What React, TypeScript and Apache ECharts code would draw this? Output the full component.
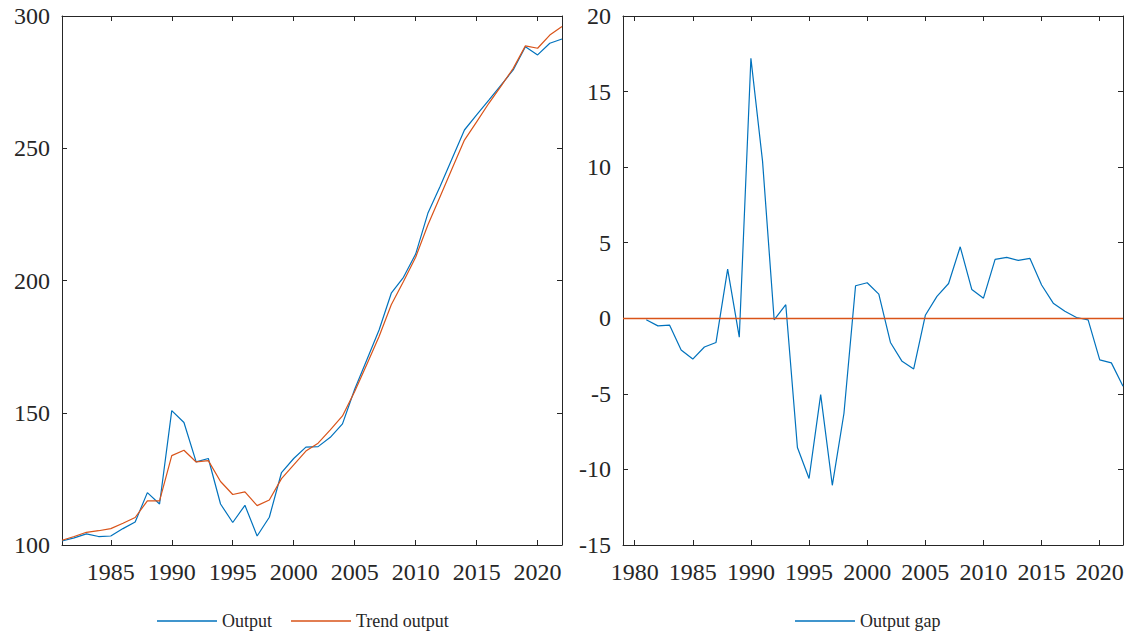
import React, { useEffect, useRef } from "react";
import * as echarts from "echarts";

const years: number[] = [
  1981, 1982, 1983, 1984, 1985, 1986, 1987, 1988, 1989, 1990,
  1991, 1992, 1993, 1994, 1995, 1996, 1997, 1998, 1999, 2000,
  2001, 2002, 2003, 2004, 2005, 2006, 2007, 2008, 2009, 2010,
  2011, 2012, 2013, 2014, 2015, 2016, 2017, 2018, 2019, 2020,
  2021, 2022,
];

const output: number[] = [
  101.5, 102.7, 104.2, 103.2, 103.4, 106.2, 108.7, 119.8, 115.5, 150.8,
  146.3, 131.4, 132.7, 115.5, 108.5, 115.0, 103.4, 110.5, 127.4, 132.7,
  137.0, 137.2, 140.7, 145.8, 158.9, 170.0, 181.3, 195.2, 201.2, 210.0,
  225.4, 235.5, 246.2, 256.9, 262.6, 268.2, 273.9, 279.6, 288.4, 285.3,
  289.7, 291.3,
];

const trendOutput: number[] = [
  101.8, 103.2, 104.8, 105.4, 106.2, 108.2, 110.4, 116.7, 116.7, 133.8,
  135.8, 131.4, 131.9, 124.0, 119.1, 120.1, 114.9, 117.0, 125.1, 130.3,
  135.5, 138.5, 143.5, 148.8, 158.0, 168.3, 178.8, 190.8, 199.6, 208.8,
  221.0, 231.7, 242.4, 253.1, 260.0, 267.0, 273.5, 280.2, 288.7, 287.8,
  292.8, 296.0,
];

const outputGap: number[] = [
  -0.1, -0.5, -0.45, -2.1, -2.7, -1.9, -1.6, 3.25, -1.25, 17.2,
  10.4, -0.1, 0.9, -8.55, -10.6, -5.05, -11.05, -6.3, 2.15, 2.35,
  1.6, -1.6, -2.85, -3.35, 0.2, 1.45, 2.3, 4.73, 1.9, 1.33,
  3.9, 4.03, 3.83, 3.96, 2.2, 1.0, 0.46, 0.05, -0.1, -2.75,
  -2.95, -4.5,
];

const leftXTicks: number[] = [1985, 1990, 1995, 2000, 2005, 2010, 2015, 2020];
const rightXTicks: number[] = [1980, 1985, 1990, 1995, 2000, 2005, 2010, 2015, 2020];

const BLUE = "#0072BD";
const ORANGE = "#D95319";
const AXIS = "#262626";
const FONT = "Liberation Serif";

export default function App() {
  const ref = useRef<HTMLDivElement>(null);

  useEffect(() => {
    document.body.style.margin = "0";
    if (!ref.current) return;
    const chart = echarts.init(ref.current, undefined, { renderer: "svg" });

    const pair = (vals: number[]) => years.map((y, i) => [y, vals[i]]);

    const axisLine = { show: true, onZero: false, lineStyle: { color: AXIS, width: 1 } };
    const tick = { show: true, inside: true, length: 5, lineStyle: { color: AXIS, width: 1 } };
    const label = { color: AXIS, fontFamily: FONT, fontSize: 24 };

    const xAxisFor = (grid: number, min: number, max: number, ticks: number[], pos: "bottom" | "top") => ({
      type: "value",
      gridIndex: grid,
      position: pos,
      min,
      max,
      axisLine,
      axisTick: { ...tick, customValues: ticks },
      axisLabel:
        pos === "bottom"
          ? { ...label, margin: 15, customValues: ticks, formatter: (v: number) => String(v) }
          : { show: false },
      splitLine: { show: false },
    });

    const yAxisFor = (grid: number, min: number, max: number, interval: number, pos: "left" | "right") => ({
      type: "value",
      gridIndex: grid,
      position: pos,
      min,
      max,
      interval,
      axisLine,
      axisTick: tick,
      axisLabel: pos === "left" ? { ...label, margin: 12 } : { show: false },
      splitLine: { show: false },
    });

    chart.setOption({
      animation: false,
      backgroundColor: "#ffffff",
      textStyle: { fontFamily: FONT },
      grid: [
        { left: 62, right: 568, top: 16, bottom: 92 },
        { left: 623, right: 7, top: 16, bottom: 92 },
      ],
      xAxis: [
        xAxisFor(0, 1981, 2022, leftXTicks, "bottom"),
        xAxisFor(0, 1981, 2022, leftXTicks, "top"),
        xAxisFor(1, 1979, 2022, rightXTicks, "bottom"),
        xAxisFor(1, 1979, 2022, rightXTicks, "top"),
      ],
      yAxis: [
        yAxisFor(0, 100, 300, 50, "left"),
        yAxisFor(0, 100, 300, 50, "right"),
        yAxisFor(1, -15, 20, 5, "left"),
        yAxisFor(1, -15, 20, 5, "right"),
      ],
      legend: [
        {
          data: ["Output", "Trend output"],
          left: 152,
          top: 607,
          icon: "rect",
          itemWidth: 60,
          itemHeight: 1.5,
          itemGap: 19,
          textStyle: { fontFamily: FONT, fontSize: 18, color: AXIS },
        },
        {
          data: ["Output gap"],
          left: 790,
          top: 607,
          icon: "rect",
          itemWidth: 60,
          itemHeight: 1.5,
          textStyle: { fontFamily: FONT, fontSize: 18, color: AXIS },
        },
      ],
      series: [
        {
          name: "Output",
          type: "line",
          xAxisIndex: 0,
          yAxisIndex: 0,
          data: pair(output),
          showSymbol: false,
          symbol: "none",
          color: BLUE,
          lineStyle: { color: BLUE, width: 1.2 },
        },
        {
          name: "Trend output",
          type: "line",
          xAxisIndex: 0,
          yAxisIndex: 0,
          data: pair(trendOutput),
          showSymbol: false,
          symbol: "none",
          color: ORANGE,
          lineStyle: { color: ORANGE, width: 1.2 },
        },
        {
          name: "Output gap",
          type: "line",
          xAxisIndex: 2,
          yAxisIndex: 2,
          data: pair(outputGap),
          showSymbol: false,
          symbol: "none",
          color: BLUE,
          lineStyle: { color: BLUE, width: 1.2 },
          markLine: {
            silent: true,
            symbol: "none",
            label: { show: false },
            lineStyle: { color: ORANGE, width: 1.4, type: "solid" },
            data: [{ yAxis: 0 }],
          },
          z: 3,
        },
      ],
    });

    return () => chart.dispose();
  }, []);

  return <div ref={ref} style={{ width: 1130, height: 637 }} />;
}
